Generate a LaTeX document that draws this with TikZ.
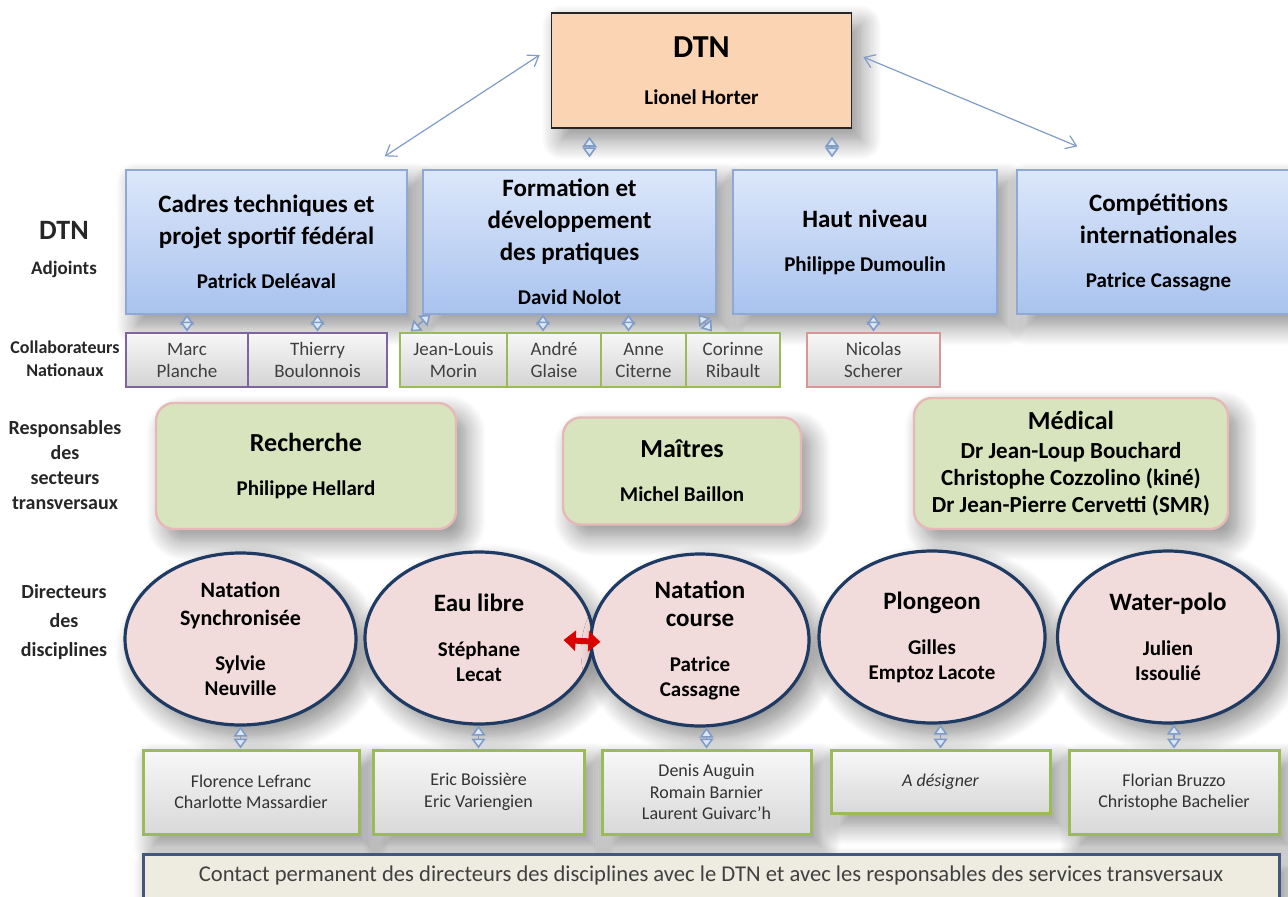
\documentclass[tikz,border=0pt]{standalone}
\usepackage{fontspec}
\setmainfont{Carlito}
\usepackage{xcolor}
\usepackage{tikz}
\usetikzlibrary{arrows.meta,positioning,shapes,shadows.blur}

\definecolor{peach}{HTML}{FBD4B4}
\definecolor{bluetop}{HTML}{DCE7FA}
\definecolor{bluebot}{HTML}{A9C3EE}
\definecolor{blueline}{HTML}{8FA9D4}
\definecolor{purpleline}{HTML}{8064A2}
\definecolor{greenline}{HTML}{9BBB59}
\definecolor{pinkline}{HTML}{D99694}
\definecolor{sectfill}{HTML}{D7E4BD}
\definecolor{sectline}{HTML}{E6B9B8}
\definecolor{discfill}{HTML}{F2DCDB}
\definecolor{navy}{HTML}{1F3B63}
\definecolor{cream}{HTML}{EEECE1}
\definecolor{arrowblue}{HTML}{7F9CC8}
\definecolor{arrowfill}{HTML}{DCE7F5}

\newcommand{\setfs}[2]{\fontsize{#1}{#2}\selectfont}

\begin{document}
\begin{tikzpicture}
[x=0.5pt, y=-0.5pt,
 every node/.style={inner sep=0pt, align=center},
 soft/.style={blur shadow={shadow xshift=5pt, shadow yshift=-6pt, shadow blur radius=10pt, shadow blur steps=12, shadow opacity=45}},
 chief/.style={rectangle, draw=black!85, line width=0.8pt, fill=peach, minimum width=150pt, minimum height=57.5pt, soft, font=\setfs{16}{12}\bfseries},
 adjbox/.style={rectangle, draw=blueline, line width=0.6pt, top color=bluetop, bottom color=bluebot, minimum height=72pt, soft, font=\setfs{12.5}{16}\bfseries},
 collab/.style={rectangle, line width=1.4pt, top color=black!3, bottom color=black!17, minimum height=27pt, text=black!75, font=\setfs{9.5}{11}},
 sector/.style={rectangle, rounded corners=9pt, draw=sectline, line width=1.2pt, fill=sectfill, soft, font=\setfs{13}{12}\bfseries},
 disc/.style={ellipse, draw=navy, line width=1.6pt, fill=discfill, minimum height=86pt, soft, font=\setfs{12.5}{12.5}\bfseries},
 helper/.style={rectangle, draw=greenline, line width=1.5pt, top color=black!3, bottom color=black!15, minimum height=42pt, soft, text=black!80, font=\setfs{9}{10.75}},
 side/.style={text=black!85},
 link/.style={arrowblue, line width=0.6pt, {Straight Barb[length=5pt,width=7pt]}-{Straight Barb[length=5pt,width=7pt]}},
 updown/.style={arrowblue, line width=0.8pt, {Triangle[length=5pt,width=7pt,fill=arrowfill]}-{Triangle[length=5pt,width=7pt,fill=arrowfill]}},
 swap/.style={red!85!black, line width=3pt, {Triangle[length=6pt,width=10pt]}-{Triangle[length=6pt,width=10pt]}}]

\useasboundingbox (0,0) rectangle (1288,897);

\node[chief] (dtn) at (701.5,70.5) {DTN\\[11.5pt]\setfs{10.5}{12}Lionel Horter};

\node[adjbox, minimum width=140.5pt] (cadres) at (266.5,242) {Cadres techniques et\\projet sportif fédéral\\[6pt]\setfs{10.5}{16}Patrick Deléaval};
\node[adjbox, minimum width=146.5pt] (formation) at (569.5,242) {Formation et\\développement\\des pratiques\\[6pt]\setfs{10.5}{16}David Nolot};
\node[adjbox, minimum width=132pt] (haut) at (865,242) {Haut niveau\\[6pt]\setfs{10.5}{16}Philippe Dumoulin};
\node[adjbox, minimum width=141.5pt] (compet) at (1158.5,242) {Compétitions\\internationales\\[6pt]\setfs{10.5}{16}Patrice Cassagne};

\node[side, font=\setfs{14}{12}\bfseries] (lbladj) at (64,250) {DTN\\[5.5pt]\setfs{9.5}{12}Adjoints};
\node[side, font=\setfs{9}{11.5}\bfseries] (lblcollab) at (65,359) {Collaborateurs\\Nationaux};
\node[side, font=\setfs{10}{12.5}\bfseries] (lblsect) at (65,465) {Responsables\\des\\secteurs\\transversaux};
\node[side, font=\setfs{10}{14.5}\bfseries] (lbldisc) at (64,622) {Directeurs\\des\\disciplines};

\node[collab, draw=purpleline, minimum width=61pt] (marc) at (187,360) {Marc\\Planche};
\node[collab, draw=purpleline, minimum width=69.5pt] (thierry) at (317.5,360) {Thierry\\Boulonnois};
\node[collab, draw=greenline, minimum width=53.5pt] (jeanlouis) at (453.5,360) {Jean-Louis\\Morin};
\node[collab, draw=greenline, minimum width=47pt] (andre) at (554,360) {André\\Glaise};
\node[collab, draw=greenline, minimum width=42.5pt] (anne) at (643.5,360) {Anne\\Citerne};
\node[collab, draw=greenline, minimum width=47pt] (corinne) at (733,360) {Corinne\\Ribault};
\node[collab, draw=pinkline, minimum width=66.5pt] (nicolas) at (873.5,360) {Nicolas\\Scherer};

\node[sector, minimum width=150pt, minimum height=63pt] (recherche) at (306,466) {Recherche\\[10pt]\setfs{10.5}{12}Philippe Hellard};
\node[sector, minimum width=119pt, minimum height=53.5pt] (maitres) at (682,471) {Maîtres\\[10pt]\setfs{10.5}{12}Michel Baillon};
\node[sector, minimum width=157pt, minimum height=65.5pt, font=\setfs{13}{13.5}\bfseries] (medical) at (1071,463.5) {Médical\\[1pt]\setfs{11.5}{13.5}Dr Jean-Loup Bouchard\\\setfs{11.5}{13.5}Christophe Cozzolino (kiné)\\\setfs{11.5}{13.5}Dr Jean-Pierre Cervetti (SMR)};

\node[disc, minimum width=115.5pt] (synchro) at (240.5,639) {\setfs{11}{12.5}Natation\\[1.5pt]\setfs{11}{12.5}Synchronisée\\[10pt]\setfs{10.5}{12.5}Sylvie\\\setfs{10.5}{12.5}Neuville};
\node[disc, minimum width=114pt] (eau) at (479,638) {Eau libre\\[10pt]\setfs{10.5}{12.5}Stéphane\\\setfs{10.5}{12.5}Lecat};
\node[disc, minimum width=109pt] (course) at (700,640) {Natation\\[1.5pt]course\\[10pt]\setfs{10.5}{12.5}Patrice\\\setfs{10.5}{12.5}Cassagne};
\node[disc, minimum width=113pt] (plongeon) at (932,637) {Plongeon\\[10pt]\setfs{10.5}{12.5}Gilles\\\setfs{10.5}{12.5}Emptoz Lacote};
\node[disc, minimum width=110.5pt] (waterpolo) at (1168,637) {Water-polo\\[10pt]\setfs{10.5}{12.5}Julien\\\setfs{10.5}{12.5}Issoulié};

\node[helper, minimum width=108pt] (florence) at (251,792) {Florence Lefranc\\Charlotte Massardier};
\node[helper, minimum width=105.5pt] (eric) at (478.5,792) {Eric Boissière\\Eric Variengien};
\node[helper, minimum width=104.5pt] (denis) at (706.5,792) {Denis Auguin\\Romain Barnier\\Laurent Guivarc'h};
\node[helper, minimum width=109.5pt, minimum height=31.5pt] (adesigner) at (940.5,781.5) {\itshape A désigner};
\node[helper, minimum width=105pt] (florian) at (1174,792) {Florian Bruzzo\\Christophe Bachelier};

\node[rectangle, draw=navy!85, line width=1.5pt, fill=cream, soft, anchor=north, minimum width=568pt, inner ysep=0pt, text height=13.5pt, text depth=15pt, text=black!75, font=\setfs{11.3}{12}] (contact) at (711,853) {Contact permanent des directeurs des disciplines avec le DTN et avec les responsables des services transversaux};

\draw[link] ([shift={(-5.5pt,7.75pt)}]dtn.west) -- ([shift={(-11.5pt,6.5pt)}]cadres.north east);
\draw[link] ([shift={(5.5pt,6.75pt)}]dtn.east) -- ([shift={(30.5pt,11.5pt)}]compet.north west);
\draw[updown] ([xshift=10pt,yshift=-4pt]formation.north |- dtn.south) -- ([xshift=10pt,yshift=6pt]formation.north);
\draw[updown] ([xshift=-16.5pt,yshift=-4pt]haut.north |- dtn.south) -- ([xshift=-16.5pt,yshift=6pt]haut.north);

\draw[updown] (marc.north |- cadres.south) -- (marc.north);
\draw[updown] (thierry.north |- cadres.south) -- (thierry.north);
\draw[updown] ([xshift=4pt]formation.south west) -- ([xshift=6pt]jeanlouis.north west);
\draw[updown] ([xshift=-5.5pt]andre.north |- formation.south) -- ([xshift=-5.5pt]andre.north);
\draw[updown] ([xshift=-7.5pt]anne.north |- formation.south) -- ([xshift=-7.5pt]anne.north);
\draw[updown] ([xshift=-9pt]formation.south east) -- ([xshift=-10.5pt]corinne.north);
\draw[updown] (nicolas.north |- haut.south) -- (nicolas.north);

\draw[swap] ([shift={(-15.5pt,-1pt)}]eau.east) -- ([shift={(5.5pt,-1pt)}]course.west);

\draw[updown] (synchro.south) -- (synchro.south |- florence.north);
\draw[updown] (eric.north |- eau.south) -- (eric.north);
\draw[updown] (denis.north |- course.south) -- (denis.north);
\draw[updown] (adesigner.north |- plongeon.south) -- (adesigner.north);
\draw[updown] (florian.north |- waterpolo.south) -- (florian.north);
\end{tikzpicture}
\end{document}
